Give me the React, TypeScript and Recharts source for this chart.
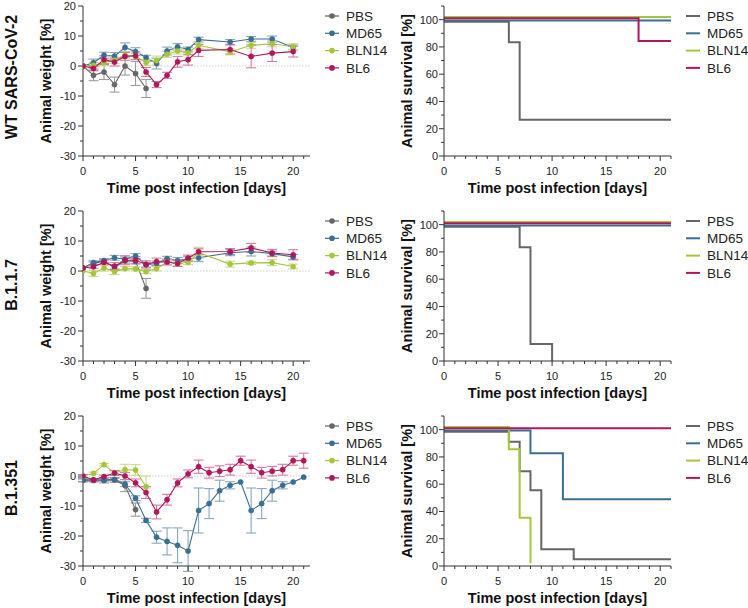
import React from "react";
import { LineChart, Line, XAxis, YAxis, ErrorBar, ReferenceLine, Legend } from "recharts";

const GROUPS = ["PBS", "MD65", "BLN14", "BL6"];
const COLORS: Record<string, string> = { PBS: "#666666", MD65: "#3b6f8f", BLN14: "#a5c63b", BL6: "#b0175b" };
const ERR_COLORS: Record<string, string> = { PBS: "#9c9c9c", MD65: "#86a8be", BLN14: "#c9dc8c", BL6: "#d67aa2" };
const SURV_OFFSET: Record<string, number> = { PBS: -1.5, MD65: -0.7, BLN14: 2, BL6: 1 };
const FONT = "'Liberation Sans', Arial, sans-serif";

// ---------- Weight: WT SARS-CoV-2 ----------
const wtDays = [0, 1, 2, 3, 4, 5, 6, 7, 8, 9, 10, 11, 14, 16, 18, 20];
const wtPBS = [0, -3.1, -2, -6.2, 0, -2.5, -7.5];
const wtPBSErr = [0, 1.8, 2.5, 2.5, 3, 4, 3];
const wtMD65 = [0, 1.1, 3.6, 3.3, 6.2, 4.8, 2.8, 0.8, 5, 6.4, 5.5, 8.8, 8, 9, 9, 6.2];
const wtMD65Err = [0, 1.2, 1, 1.2, 1.5, 1.3, 0.8, 1.8, 1.3, 1.1, 0.8, 0.8, 0.8, 0.8, 1, 0.8];
const wtBLN14 = [0, 0.2, 1.1, 1.9, 3.6, 3.2, 1.2, 1.8, 3.9, 5, 4.4, 6.9, 4.7, 6.9, 7.4, 6.4];
const wtBLN14Err = [0, 1, 1, 1, 1, 1, 1, 1.5, 1, 1, 1, 1, 1, 1, 1, 1];
const wtBL6 = [0, -0.8, 2.1, 1.3, 3.2, 3.4, -2, -6.2, -3.1, 1.4, 2.1, 5.2, 5.5, 3.2, 4.3, 4.8];
const wtBL6Err = [0, 0.8, 1.3, 1.3, 1.3, 1.3, 1.5, 1, 1, 1.8, 1.8, 2, 1.5, 3.8, 2.8, 1.8];

// ---------- Weight: B.1.1.7 ----------
const b117Days = [0, 1, 2, 3, 4, 5, 6, 7, 8, 9, 10, 11, 14, 16, 18, 20];
const b117PBS = [1, 2.5, 3.2, 1.2, 3.4, 3.2, -5.8];
const b117PBSErr = [0, 0.5, 0.5, 0.8, 0.8, 0.8, 3.3];
const b117MD65 = [1, 2.8, 3.5, 4.4, 3.9, 5.0, 2.1, 2.5, 4.1, 3.5, 4.1, 4.4, 6.1, 6.5, 5.8, 4.7];
const b117MD65Err = [0, 0.6, 0.6, 0.8, 0.8, 0.8, 0.8, 0.8, 0.8, 1, 0.8, 1.2, 1, 1.5, 0.8, 0.8];
const b117BLN14 = [0, -0.8, 1, -0.2, 0.8, 0.7, -0.2, 0.8, 3, 2.5, 2.9, 6.1, 2.3, 2.7, 2.8, 1.5];
const b117BLN14Err = [0, 1, 1, 1, 0.7, 0.7, 0.7, 0.8, 0.8, 0.8, 0.8, 1.8, 1, 0.5, 1, 0.8];
const b117BL6 = [1, 1.4, 2.9, 1.6, 3.6, 3.6, 2.2, 3.1, 3.0, 2.5, 4.3, 6.4, 6.5, 7.7, 6.0, 5.4];
const b117BL6Err = [0, 0.5, 0.8, 1.2, 1.5, 1.2, 1.2, 1.2, 1, 1, 1, 1, 1, 1.5, 1.2, 1.7];

// ---------- Weight: B.1.351 ----------
const b1351Days = [0, 1, 2, 3, 4, 5, 6, 7, 8, 9, 10, 11, 12, 13, 14, 15, 16, 17, 18, 19, 20, 21];
const b1351PBS = [-1.5, -1.5, -1.5, -1.3, -3.2, -11.2];
const b1351PBSErr = [0.5, 0.5, 0.8, 0.8, 2, 2.2];
const b1351MD65 = [-1.3, -1.3, -1.3, -1.2, -2.7, -7.4, -14.8, -20.4, -21.8, -23.1, -25, -11.5, -9.2, -4.9, -3.1, -2, -11.5, -9.2, -4.9, -3.1, -2, -0.4];
const b1351MD65Err = [0.5, 0.4, 0.4, 0.4, 0.8, 0.8, 0.7, 2, 4.5, 5.8, 6.8, 7.5, 5, 3.5, 1.2, 0, 7.5, 5, 3.5, 1.2, 0, 0];
const b1351BLN14 = [0, 0.9, 3.8, 1, 2.1, 2, -3.6];
const b1351BLN14Err: (number | number[])[] = [0, 0.4, 0.4, 0.8, 1.8, 1.8, [0.4, 3.6]];
const b1351BL6 = [0, -1.3, -0.2, 1, 0, -2.3, -5.5, -12, -7.9, -2.3, 0.7, 3.1, 1.1, 1.6, 2.1, 5.1, 3.1, 1.1, 1.6, 2.1, 5.1, 5.1];
const b1351BL6Err = [0.5, 0.5, 0.5, 0.8, 1.2, 1.3, 2, 2.3, 1.8, 1.3, 1.3, 2.2, 1.8, 1.8, 1.8, 1.5, 2.2, 1.8, 1.6, 1.8, 1.5, 2.5];

// ---------- Survival (day of change, % survival) ----------
const wtSurvDays: Record<string, number[]> = { PBS: [0, 6, 7, 21], MD65: [0, 21], BLN14: [0, 21], BL6: [0, 18, 21] };
const wtSurvVals: Record<string, number[]> = { PBS: [100, 85, 28, 28], MD65: [100, 100], BLN14: [100, 100], BL6: [100, 83.3, 83.3] };
const b117SurvDays: Record<string, number[]> = { PBS: [0, 7, 8, 10], MD65: [0, 21], BLN14: [0, 21], BL6: [0, 21] };
const b117SurvVals: Record<string, number[]> = { PBS: [100, 85, 14, 1.5], MD65: [100, 100], BLN14: [100, 100], BL6: [100, 100] };
const b1351SurvDays: Record<string, number[]> = { PBS: [0, 6, 7, 8, 9, 12, 21], MD65: [0, 8, 11, 21], BLN14: [0, 6, 7, 8], BL6: [0, 21] };
const b1351SurvVals: Record<string, number[]> = { PBS: [100, 92.7, 71, 57, 13.7, 6.4, 6.4], MD65: [100, 83.3, 49.6, 49.6], BLN14: [100, 83.6, 33.4, 0], BL6: [100, 100] };

const W_Y_TICKS = [-30, -25, -20, -15, -10, -5, 0, 5, 10, 15, 20];
const X_TICKS = Array.from({ length: 22 }, (_, i) => i);
const S_Y_TICKS = [0, 10, 20, 30, 40, 50, 60, 70, 80, 90, 100, 110];

function buildWeightRows(days: number[], vals: Record<string, number[]>, errs: Record<string, any[]>) {
  return days.map((d, i) => {
    const row: any = { day: d };
    GROUPS.forEach((g) => {
      const v = vals[g][i];
      row[g] = v === undefined ? null : v;
      row[g + "_err"] = v === undefined ? null : errs[g][i];
    });
    return row;
  });
}

function buildSurv(days: Record<string, number[]>, vals: Record<string, number[]>, g: string) {
  return days[g].map((d, i) => ({ day: d, value: vals[g][i] + SURV_OFFSET[g] }));
}

const wtRows = buildWeightRows(wtDays, { PBS: wtPBS, MD65: wtMD65, BLN14: wtBLN14, BL6: wtBL6 }, { PBS: wtPBSErr, MD65: wtMD65Err, BLN14: wtBLN14Err, BL6: wtBL6Err });
const b117Rows = buildWeightRows(b117Days, { PBS: b117PBS, MD65: b117MD65, BLN14: b117BLN14, BL6: b117BL6 }, { PBS: b117PBSErr, MD65: b117MD65Err, BLN14: b117BLN14Err, BL6: b117BL6Err });
const b1351Rows = buildWeightRows(b1351Days, { PBS: b1351PBS, MD65: b1351MD65, BLN14: b1351BLN14, BL6: b1351BL6 }, { PBS: b1351PBSErr, MD65: b1351MD65Err, BLN14: b1351BLN14Err, BL6: b1351BL6Err });

const AXIS = "#333";

const YTick = (props: any) => {
  const { x, y, payload, major, gap } = props;
  const v = payload.value;
  const isMajor = major.includes(v);
  return (
    <g>
      <line x1={x - (isMajor ? 5 : 3)} x2={x} y1={y} y2={y} stroke={AXIS} strokeWidth={1} />
      {isMajor && (
        <text x={x - gap} y={y} dy="0.36em" textAnchor="end" fontSize={11} fontFamily={FONT} fill="#222">{v}</text>
      )}
    </g>
  );
};

const XTick = (props: any) => {
  const { x, y, payload } = props;
  const v = payload.value;
  const isMajor = v % 5 === 0;
  return (
    <g>
      <line x1={x} x2={x} y1={y} y2={y + (isMajor ? 5 : 3)} stroke={AXIS} strokeWidth={1} />
      {isMajor && (
        <text x={x} y={y + 19} textAnchor="middle" fontSize={11} fontFamily={FONT} fill="#222">{v}</text>
      )}
    </g>
  );
};

const XTitle = (props: any) => {
  const vb = props.viewBox;
  return (
    <text x={vb.x + vb.width / 2} y={vb.y + 37} textAnchor="middle" fontSize={14.5} fontWeight="bold" fontFamily={FONT} fill="#111">
      Time post infection [days]
    </text>
  );
};

const YTitle = (props: any) => {
  const { viewBox: vb, text, bx, rowLabel, rowDy } = props;
  const cy = vb.y + vb.height / 2;
  return (
    <g>
      <text transform={`translate(${bx},${cy}) rotate(-90)`} textAnchor="middle" fontSize={14.5} fontWeight="bold" fontFamily={FONT} fill="#111">
        {text}
      </text>
      {rowLabel && (
        <text transform={`translate(16.5,${cy + rowDy}) rotate(-90)`} textAnchor="middle" fontSize={16} fontWeight="bold" fontFamily={FONT} fill="#111">
          {rowLabel}
        </text>
      )}
    </g>
  );
};

const WeightLegend = () => (
  <svg width={95} height={80}>
    {GROUPS.map((g, i) => {
      const y = 16 + 17.3 * i;
      return (
        <g key={g}>
          <line x1={10} x2={24} y1={y} y2={y} stroke={COLORS[g]} strokeWidth={1.2} />
          <circle cx={17} cy={y} r={2.8} fill={COLORS[g]} />
          <text x={31} y={y} dy="0.36em" fontSize={13.5} fontFamily={FONT} fill="#222">{g}</text>
        </g>
      );
    })}
  </svg>
);

const SurvLegend = () => (
  <svg width={80} height={80}>
    {GROUPS.map((g, i) => {
      const y = 16 + 17.3 * i;
      return (
        <g key={g}>
          <line x1={6} x2={20} y1={y} y2={y} stroke={COLORS[g]} strokeWidth={2} />
          <text x={27} y={y} dy="0.36em" fontSize={13.5} fontFamily={FONT} fill="#222">{g}</text>
        </g>
      );
    })}
  </svg>
);

function WeightPanel({ top, rows, rowLabel, rowDy }: { top: number; rows: any[]; rowLabel: string; rowDy: number }) {
  return (
    <div style={{ position: "absolute", left: 0, top }}>
      <LineChart width={400} height={200} data={rows} margin={{ top: 6, right: 90, bottom: 0, left: 43 }}>
        <XAxis
          type="number"
          dataKey="day"
          domain={[0, 21.6]}
          ticks={X_TICKS}
          interval={0}
          tickSize={0}
          tickMargin={0}
          tickLine={false}
          tick={<XTick />}
          stroke={AXIS}
          height={44}
          allowDataOverflow
          label={<XTitle />}
        />
        <YAxis
          type="number"
          domain={[-30, 20]}
          ticks={W_Y_TICKS}
          interval={0}
          tickSize={0}
          tickMargin={0}
          tickLine={false}
          tick={<YTick major={[-30, -20, -10, 0, 10, 20]} gap={7} />}
          stroke={AXIS}
          width={40}
          allowDataOverflow
          label={<YTitle text="Animal weight [%]" bx={50.5} rowLabel={rowLabel} rowDy={rowDy} />}
        />
        <ReferenceLine y={0} stroke="#cfcfcf" strokeDasharray="1.5 1.5" strokeWidth={1} />
        {GROUPS.map((g) => (
          <Line
            key={g}
            dataKey={g}
            name={g}
            stroke={COLORS[g]}
            strokeWidth={1.1}
            dot={{ r: 2.6, fill: COLORS[g], stroke: COLORS[g], strokeWidth: 0.5 }}
            isAnimationActive={false}
            connectNulls={false}
          >
            <ErrorBar dataKey={g + "_err"} width={5} stroke={ERR_COLORS[g]} strokeWidth={1.1} direction="y" />
          </Line>
        ))}
        <Legend
          layout="horizontal"
          verticalAlign="middle"
          align="center"
          content={() => <WeightLegend />}
          wrapperStyle={{ left: 315, top: 0, width: 95, height: 80 }}
        />
      </LineChart>
    </div>
  );
}

function SurvivalPanel({ top, days, vals }: { top: number; days: Record<string, number[]>; vals: Record<string, number[]> }) {
  return (
    <div style={{ position: "absolute", left: 370, top }}>
      <LineChart width={378} height={200} margin={{ top: 6, right: 77, bottom: 0, left: 34 }}>
        <XAxis
          type="number"
          dataKey="day"
          domain={[0, 21]}
          ticks={X_TICKS}
          interval={0}
          tickSize={0}
          tickMargin={0}
          tickLine={false}
          tick={<XTick />}
          stroke={AXIS}
          height={44}
          label={<XTitle />}
        />
        <YAxis
          type="number"
          domain={[0, 110]}
          ticks={S_Y_TICKS}
          interval={0}
          tickSize={0}
          tickMargin={0}
          tickLine={false}
          tick={<YTick major={[0, 20, 40, 60, 80, 100]} gap={6} />}
          stroke={AXIS}
          width={40}
          allowDataOverflow
          label={<YTitle text="Animal survival [%]" bx={42} />}
        />
        {GROUPS.map((g) => (
          <Line
            key={g}
            data={buildSurv(days, vals, g)}
            dataKey="value"
            name={g}
            type="stepAfter"
            stroke={COLORS[g]}
            strokeWidth={2}
            dot={false}
            isAnimationActive={false}
          />
        ))}
        <Legend
          layout="horizontal"
          verticalAlign="middle"
          align="center"
          content={() => <SurvLegend />}
          wrapperStyle={{ left: 310, top: 0, width: 80, height: 80 }}
        />
      </LineChart>
    </div>
  );
}

export default function App() {
  return (
    <div style={{ position: "absolute", left: 0, top: 0, width: 748, height: 608, background: "#fff", fontFamily: FONT }}>
      <WeightPanel top={0} rows={wtRows} rowLabel="WT SARS-CoV-2" rowDy={-4} />
      <WeightPanel top={205} rows={b117Rows} rowLabel="B.1.1.7" rowDy={-1} />
      <WeightPanel top={410} rows={b1351Rows} rowLabel="B.1.351" rowDy={-3} />
      <SurvivalPanel top={0} days={wtSurvDays} vals={wtSurvVals} />
      <SurvivalPanel top={205} days={b117SurvDays} vals={b117SurvVals} />
      <SurvivalPanel top={410} days={b1351SurvDays} vals={b1351SurvVals} />
    </div>
  );
}
